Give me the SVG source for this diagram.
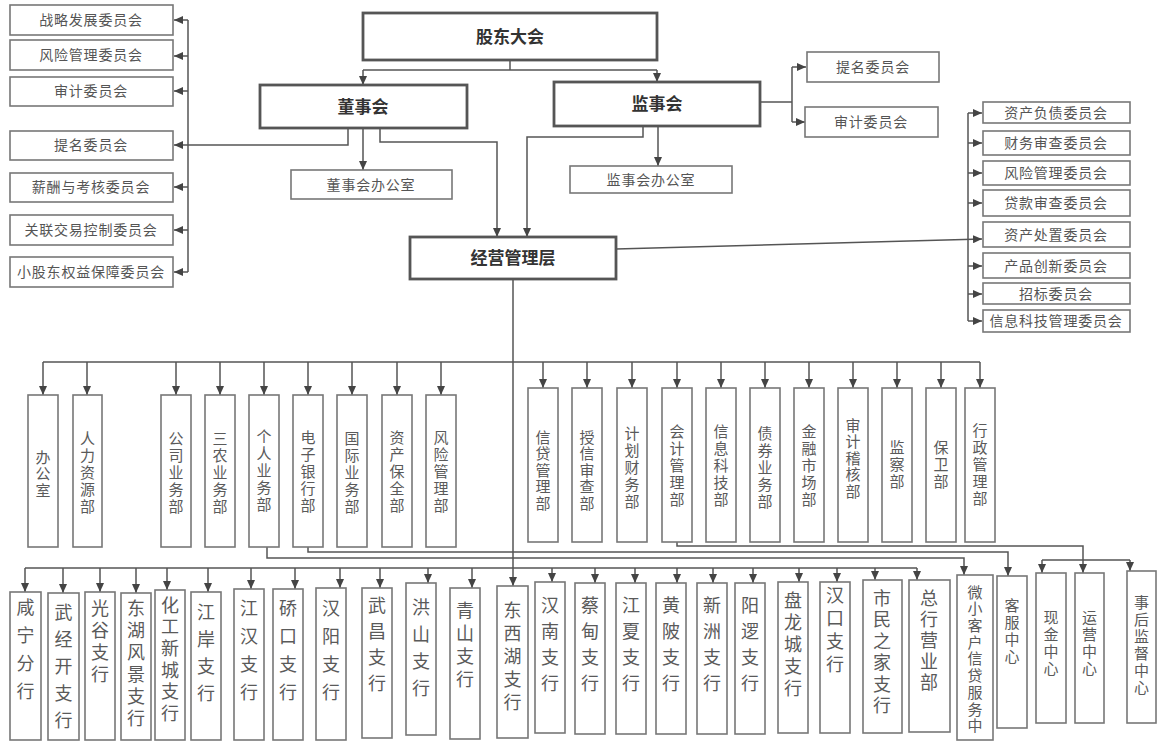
<svg xmlns="http://www.w3.org/2000/svg" width="1159" height="742" viewBox="0 0 1159 742">
<defs>
<marker id="ah" markerWidth="9" markerHeight="8" refX="9" refY="4" orient="auto" markerUnits="userSpaceOnUse"><path d="M0,0 L9,4 L0,8 z" fill="#444"/></marker>
<style>
.bx{fill:#fff;stroke:#777;stroke-width:1.6}
.bk{fill:#fff;stroke:#555;stroke-width:2.8}
.ln{fill:none;stroke:#555;stroke-width:1.5}
.ar{fill:none;stroke:#555;stroke-width:1.5;marker-end:url(#ah)}
text{font-family:"Noto Sans CJK SC","Noto Sans",sans-serif;fill:#555}
.t1{font-size:17px;font-weight:bold;fill:#333;text-anchor:middle}
.t2{font-size:14px;text-anchor:middle;letter-spacing:0.8px}
.v1{font-size:15px;writing-mode:vertical-rl;text-anchor:start;fill:#5a5a5a}
.v2{font-size:18px;writing-mode:vertical-rl;text-anchor:start;fill:#5a5a5a}
.v3{font-size:15px;writing-mode:vertical-rl;text-anchor:start;fill:#5a5a5a}
</style>
</defs>
<rect width="1159" height="742" fill="#fff"/>
<g id="connectors">
<path class="ln" d="M510,60 V70 M363,70 H657"/>
<path class="ar" d="M363,70 V85"/>
<path class="ar" d="M657,70 V82"/>
<path class="ar" d="M363,128 V170"/>
<path class="ar" d="M380,128 V142 H497 V237"/>
<path class="ar" d="M643,126 V137 H527 V237"/>
<path class="ar" d="M658,126 V166"/>
<path class="ar" d="M348,128 V145 H174"/>
<path class="ln" d="M188,20 V272"/>
<path class="ar" d="M188,20 H174"/>
<path class="ar" d="M188,56 H174"/>
<path class="ar" d="M188,91 H174"/>
<path class="ar" d="M188,187 H174"/>
<path class="ar" d="M188,230 H174"/>
<path class="ar" d="M188,272 H174"/>
<path class="ln" d="M760,102 H792 M792,67 V122"/>
<path class="ar" d="M792,67 H806"/>
<path class="ar" d="M792,122 H805"/>
<path class="ar" d="M616,249 L982,239"/>
<path class="ln" d="M968,113 V321"/>
<path class="ar" d="M968,113 H982"/>
<path class="ar" d="M968,143 H982"/>
<path class="ar" d="M968,173 H982"/>
<path class="ar" d="M968,203 H982"/>
<path class="ar" d="M968,266 H982"/>
<path class="ar" d="M968,294 H982"/>
<path class="ar" d="M968,321 H982"/>
<path class="ar" d="M513,279 V586"/>
<path class="ln" d="M43,362 H980"/>
<path class="ar" d="M43,362 V395"/>
<path class="ar" d="M87,362 V395"/>
<path class="ar" d="M176,362 V395"/>
<path class="ar" d="M220,362 V395"/>
<path class="ar" d="M264,362 V395"/>
<path class="ar" d="M308,362 V395"/>
<path class="ar" d="M352,362 V395"/>
<path class="ar" d="M397,362 V395"/>
<path class="ar" d="M441,362 V395"/>
<path class="ar" d="M543,362 V388"/>
<path class="ar" d="M587,362 V388"/>
<path class="ar" d="M632,362 V388"/>
<path class="ar" d="M677,362 V388"/>
<path class="ar" d="M721,362 V388"/>
<path class="ar" d="M765,362 V388"/>
<path class="ar" d="M809,362 V388"/>
<path class="ar" d="M853,362 V388"/>
<path class="ar" d="M897,362 V388"/>
<path class="ar" d="M941,362 V388"/>
<path class="ar" d="M980,362 V388"/>
<path class="ln" d="M25,568 H917"/>
<path class="ar" d="M25,568 V592"/>
<path class="ar" d="M63,568 V593"/>
<path class="ar" d="M100,568 V592"/>
<path class="ar" d="M136,568 V593"/>
<path class="ar" d="M167,568 V590"/>
<path class="ar" d="M208,568 V592"/>
<path class="ar" d="M251,568 V589"/>
<path class="ar" d="M295,568 V589"/>
<path class="ar" d="M340,568 V588"/>
<path class="ar" d="M380,568 V588"/>
<path class="ar" d="M428,568 V583"/>
<path class="ar" d="M472,568 V588"/>
<path class="ar" d="M552,568 V582"/>
<path class="ar" d="M595,568 V583"/>
<path class="ar" d="M635,568 V583"/>
<path class="ar" d="M677,568 V583"/>
<path class="ar" d="M713,568 V583"/>
<path class="ar" d="M753,568 V583"/>
<path class="ar" d="M799,568 V582"/>
<path class="ar" d="M837,568 V582"/>
<path class="ar" d="M875,568 V580"/>
<path class="ar" d="M917,568 V580"/>
<path class="ar" d="M267,547 V558 H964 V575"/>
<path class="ar" d="M308,547 V552 H1008 V576"/>
<path class="ar" d="M677,542 V546 H1083 V573"/>
<path class="ln" d="M1042,560 H1130"/>
<path class="ar" d="M1042,560 V573"/>
<path class="ar" d="M1130,560 V571"/>
</g>
<g id="n-gudong"><rect class="bk" x="363" y="13" width="294" height="47"/><text class="t1" x="510" y="43">股东大会</text></g>
<g id="n-dongshi"><rect class="bk" x="260" y="85" width="207" height="43"/><text class="t1" x="363" y="113">董事会</text></g>
<g id="n-jianshi"><rect class="bk" x="554" y="82" width="206" height="44"/><text class="t1" x="657" y="110">监事会</text></g>
<g id="n-jingying"><rect class="bk" x="410" y="237" width="206" height="42"/><text class="t1" x="513" y="264">经营管理层</text></g>
<g id="n-dsbgs"><rect class="bx" x="291" y="170" width="161" height="29"/><text class="t2" x="371" y="190">董事会办公室</text></g>
<g id="n-jsbgs"><rect class="bx" x="570" y="166" width="162" height="27"/><text class="t2" x="651" y="185">监事会办公室</text></g>
<g id="n-l1"><rect class="bx" x="10" y="5" width="163" height="30"/><text class="t2" x="91" y="25">战略发展委员会</text></g>
<g id="n-l2"><rect class="bx" x="10" y="40" width="163" height="30"/><text class="t2" x="91" y="60">风险管理委员会</text></g>
<g id="n-l3"><rect class="bx" x="10" y="77" width="163" height="29"/><text class="t2" x="91" y="96">审计委员会</text></g>
<g id="n-l4"><rect class="bx" x="10" y="131" width="163" height="29"/><text class="t2" x="91" y="150">提名委员会</text></g>
<g id="n-l5"><rect class="bx" x="10" y="173" width="163" height="29"/><text class="t2" x="91" y="192">薪酬与考核委员会</text></g>
<g id="n-l6"><rect class="bx" x="10" y="215" width="163" height="30"/><text class="t2" x="91" y="235">关联交易控制委员会</text></g>
<g id="n-l7"><rect class="bx" x="10" y="257" width="163" height="30"/><text class="t2" x="91" y="277">小股东权益保障委员会</text></g>
<g id="n-r1"><rect class="bx" x="807" y="52" width="132" height="30"/><text class="t2" x="873" y="72">提名委员会</text></g>
<g id="n-r2"><rect class="bx" x="805" y="107" width="133" height="30"/><text class="t2" x="871" y="127">审计委员会</text></g>
<g id="n-c1"><rect class="bx" x="983" y="102" width="147" height="21"/><text class="t2" x="1056" y="118">资产负债委员会</text></g>
<g id="n-c2"><rect class="bx" x="983" y="131" width="147" height="24"/><text class="t2" x="1056" y="148">财务审查委员会</text></g>
<g id="n-c3"><rect class="bx" x="983" y="161" width="147" height="24"/><text class="t2" x="1056" y="178">风险管理委员会</text></g>
<g id="n-c4"><rect class="bx" x="983" y="190" width="147" height="26"/><text class="t2" x="1056" y="208">贷款审查委员会</text></g>
<g id="n-c5"><rect class="bx" x="983" y="222" width="147" height="25"/><text class="t2" x="1056" y="240">资产处置委员会</text></g>
<g id="n-c6"><rect class="bx" x="983" y="253" width="147" height="25"/><text class="t2" x="1056" y="271">产品创新委员会</text></g>
<g id="n-c7"><rect class="bx" x="983" y="283" width="147" height="21"/><text class="t2" x="1056" y="299">招标委员会</text></g>
<g id="n-c8"><rect class="bx" x="983" y="310" width="147" height="22"/><text class="t2" x="1056" y="326">信息科技管理委员会</text></g>
<g id="d1"><rect class="bx" x="28" y="395" width="30" height="152"/><text class="v1" x="43" y="449.5" letter-spacing="1.5">办公室</text></g>
<g id="d2"><rect class="bx" x="73" y="395" width="29" height="152"/><text class="v1" x="87.5" y="430.5" letter-spacing="2">人力资源部</text></g>
<g id="d3"><rect class="bx" x="161" y="395" width="30" height="152"/><text class="v1" x="176" y="430.5" letter-spacing="2">公司业务部</text></g>
<g id="d4"><rect class="bx" x="205" y="395" width="30" height="152"/><text class="v1" x="220" y="430.5" letter-spacing="2">三农业务部</text></g>
<g id="d5"><rect class="bx" x="249" y="395" width="30" height="152"/><text class="v1" x="264" y="428.5" letter-spacing="2">个人业务部</text></g>
<g id="d6"><rect class="bx" x="293" y="395" width="30" height="152"/><text class="v1" x="308" y="429.5" letter-spacing="2">电子银行部</text></g>
<g id="d7"><rect class="bx" x="337" y="395" width="30" height="152"/><text class="v1" x="352" y="430.5" letter-spacing="2">国际业务部</text></g>
<g id="d8"><rect class="bx" x="382" y="395" width="30" height="152"/><text class="v1" x="397" y="429.5" letter-spacing="2">资产保全部</text></g>
<g id="d9"><rect class="bx" x="426" y="395" width="30" height="152"/><text class="v1" x="441" y="429.5" letter-spacing="2">风险管理部</text></g>
<g id="d10"><rect class="bx" x="528" y="388" width="30" height="154"/><text class="v1" x="543" y="429.5" letter-spacing="1.5">信贷管理部</text></g>
<g id="d11"><rect class="bx" x="572" y="388" width="30" height="154"/><text class="v1" x="587" y="429.5" letter-spacing="1.5">授信审查部</text></g>
<g id="d12"><rect class="bx" x="617" y="388" width="30" height="154"/><text class="v1" x="632" y="425.5" letter-spacing="2">计划财务部</text></g>
<g id="d13"><rect class="bx" x="662" y="388" width="30" height="154"/><text class="v1" x="677" y="423.5" letter-spacing="2">会计管理部</text></g>
<g id="d14"><rect class="bx" x="706" y="388" width="30" height="154"/><text class="v1" x="721" y="423.5" letter-spacing="2">信息科技部</text></g>
<g id="d15"><rect class="bx" x="750" y="388" width="30" height="154"/><text class="v1" x="765" y="425.5" letter-spacing="2">债券业务部</text></g>
<g id="d16"><rect class="bx" x="794" y="388" width="30" height="154"/><text class="v1" x="809" y="423.5" letter-spacing="2">金融市场部</text></g>
<g id="d17"><rect class="bx" x="838" y="388" width="30" height="154"/><text class="v1" x="853" y="417.5" letter-spacing="1.5">审计稽核部</text></g>
<g id="d18"><rect class="bx" x="882" y="388" width="30" height="154"/><text class="v1" x="897" y="439.5" letter-spacing="2">监察部</text></g>
<g id="d19"><rect class="bx" x="926" y="388" width="30" height="154"/><text class="v1" x="941" y="439.5" letter-spacing="2">保卫部</text></g>
<g id="d20"><rect class="bx" x="965" y="388" width="30" height="154"/><text class="v1" x="980" y="422.5" letter-spacing="2">行政管理部</text></g>
<g id="b1"><rect class="bx" x="10" y="592" width="31" height="148"/><text class="v2" x="25.5" y="598" letter-spacing="10">咸宁分行</text></g>
<g id="b2"><rect class="bx" x="48" y="593" width="31" height="147"/><text class="v2" x="63.5" y="603" letter-spacing="9">武经开支行</text></g>
<g id="b3"><rect class="bx" x="85" y="592" width="30" height="148"/><text class="v2" x="100" y="599" letter-spacing="4">光谷支行</text></g>
<g id="b4"><rect class="bx" x="121" y="593" width="30" height="147"/><text class="v2" x="136" y="599" letter-spacing="4">东湖风景支行</text></g>
<g id="b5"><rect class="bx" x="155" y="590" width="30" height="150"/><text class="v2" x="170" y="596" letter-spacing="3.6">化工新城支行</text></g>
<g id="b6"><rect class="bx" x="191" y="592" width="30" height="148"/><text class="v2" x="206" y="603" letter-spacing="9">江岸支行</text></g>
<g id="b7"><rect class="bx" x="234" y="589" width="30" height="151"/><text class="v2" x="249" y="599" letter-spacing="10">江汉支行</text></g>
<g id="b8"><rect class="bx" x="273" y="589" width="30" height="151"/><text class="v2" x="288" y="599" letter-spacing="10">硚口支行</text></g>
<g id="b9"><rect class="bx" x="316" y="588" width="30" height="152"/><text class="v2" x="331" y="599" letter-spacing="10">汉阳支行</text></g>
<g id="b10"><rect class="bx" x="362" y="588" width="30" height="150"/><text class="v2" x="377" y="596" letter-spacing="8">武昌支行</text></g>
<g id="b11"><rect class="bx" x="406" y="583" width="30" height="152"/><text class="v2" x="421" y="598" letter-spacing="9">洪山支行</text></g>
<g id="b12"><rect class="bx" x="450" y="588" width="30" height="151"/><text class="v2" x="465" y="601" letter-spacing="5">青山支行</text></g>
<g id="b13"><rect class="bx" x="497" y="586" width="31" height="152"/><text class="v2" x="512.5" y="601" letter-spacing="5">东西湖支行</text></g>
<g id="b14"><rect class="bx" x="535" y="582" width="30" height="151"/><text class="v2" x="550" y="596" letter-spacing="8">汉南支行</text></g>
<g id="b15"><rect class="bx" x="575" y="583" width="30" height="151"/><text class="v2" x="590" y="596" letter-spacing="8">蔡甸支行</text></g>
<g id="b16"><rect class="bx" x="616" y="583" width="30" height="151"/><text class="v2" x="631" y="596" letter-spacing="8">江夏支行</text></g>
<g id="b17"><rect class="bx" x="656" y="583" width="30" height="151"/><text class="v2" x="671" y="596" letter-spacing="8">黄陂支行</text></g>
<g id="b18"><rect class="bx" x="697" y="583" width="30" height="151"/><text class="v2" x="712" y="596" letter-spacing="8">新洲支行</text></g>
<g id="b19"><rect class="bx" x="735" y="583" width="30" height="151"/><text class="v2" x="750" y="596" letter-spacing="8">阳逻支行</text></g>
<g id="b20"><rect class="bx" x="778" y="582" width="30" height="151"/><text class="v2" x="793" y="591" letter-spacing="4">盘龙城支行</text></g>
<g id="b21"><rect class="bx" x="820" y="582" width="30" height="151"/><text class="v2" x="835" y="586" letter-spacing="5">汉口支行</text></g>
<g id="b22"><rect class="bx" x="863" y="580" width="39" height="153"/><text class="v2" x="882" y="589" letter-spacing="3.5">市民之家支行</text></g>
<g id="b23"><rect class="bx" x="909" y="580" width="41" height="152"/><text class="v2" x="929" y="589" letter-spacing="3">总行营业部</text></g>
<g id="b24"><rect class="bx" x="957" y="575" width="36" height="165"/><text class="v3" x="975" y="584.5" letter-spacing="1.7">微小客户信贷服务中</text></g>
<g id="b25"><rect class="bx" x="997" y="576" width="30" height="152"/><text class="v3" x="1012" y="597.5" letter-spacing="2">客服中心</text></g>
<g id="b26"><rect class="bx" x="1036" y="573" width="30" height="150"/><text class="v3" x="1051" y="609.5" letter-spacing="2">现金中心</text></g>
<g id="b27"><rect class="bx" x="1075" y="573" width="29" height="150"/><text class="v3" x="1089.5" y="609.5" letter-spacing="2">运营中心</text></g>
<g id="b28"><rect class="bx" x="1127" y="571" width="29" height="152"/><text class="v3" x="1141.5" y="594.5" letter-spacing="2">事后监督中心</text></g>
</svg>
